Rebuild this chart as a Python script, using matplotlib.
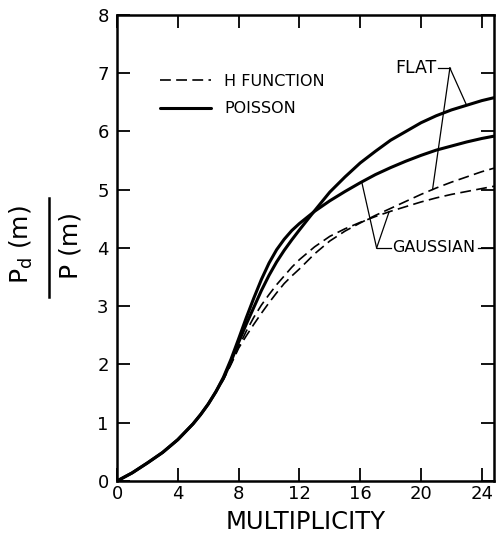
import numpy as np
import matplotlib
matplotlib.use("Agg")
import matplotlib.pyplot as plt
from matplotlib.lines import Line2D

plt.rcParams['font.family'] = ['DejaVu Sans']

# ---- data ----
m = [0, 1, 2, 3, 4, 5, 5.5, 6, 6.5, 7, 7.5, 8, 8.5, 9, 9.5, 10, 10.5, 11,
     11.5, 12, 13, 14, 15, 16, 17, 18, 19, 20, 21, 22, 23, 24, 24.8]
poisson_flat = [0, 0.14, 0.31, 0.49, 0.71, 0.98, 1.14, 1.32, 1.53, 1.76,
                2.05, 2.38, 2.69, 2.98, 3.27, 3.53, 3.76, 3.96, 4.14, 4.31,
                4.64, 4.96, 5.22, 5.46, 5.66, 5.85, 6.00, 6.15, 6.27, 6.37,
                6.45, 6.53, 6.58]
poisson_gauss = [0, 0.14, 0.31, 0.49, 0.71, 0.98, 1.14, 1.32, 1.53, 1.78,
                 2.09, 2.44, 2.80, 3.14, 3.46, 3.74, 3.97, 4.15, 4.30, 4.42,
                 4.63, 4.81, 4.97, 5.12, 5.26, 5.38, 5.49, 5.59, 5.68, 5.75,
                 5.82, 5.88, 5.92]
hfunc_flat = [0, 0.14, 0.31, 0.49, 0.71, 0.98, 1.14, 1.32, 1.53, 1.74,
              2.00, 2.28, 2.49, 2.69, 2.88, 3.06, 3.23, 3.39, 3.52, 3.64,
              3.90, 4.12, 4.29, 4.43, 4.56, 4.68, 4.80, 4.92, 5.03, 5.13,
              5.22, 5.31, 5.37]
hfunc_gauss = [0, 0.14, 0.31, 0.49, 0.71, 0.98, 1.14, 1.32, 1.53, 1.75,
               2.02, 2.30, 2.57, 2.81, 3.02, 3.20, 3.37, 3.52, 3.67, 3.80,
               4.02, 4.20, 4.33, 4.44, 4.54, 4.63, 4.71, 4.79, 4.86, 4.92,
               4.97, 5.02, 5.06]
xticks = [0, 4, 8, 12, 16, 20, 24]
yticks = [0, 1, 2, 3, 4, 5, 6, 7, 8]
legend_labels = ["H FUNCTION", "POISSON"]

fig = plt.figure(figsize=(4.96, 5.41), dpi=100)
ax = fig.add_axes([0.2359, 0.1109, 0.760, 0.8614])

solid_kw = dict(color='black', lw=2.2, solid_capstyle='round',
                solid_joinstyle='round')
dash_kw = dict(color='black', lw=1.2, dashes=(6.5, 3.2))

ax.plot(m, poisson_flat, **solid_kw)
ax.plot(m, poisson_gauss, **solid_kw)
ax.plot(m, hfunc_flat, **dash_kw)
ax.plot(m, hfunc_gauss, **dash_kw)

ax.set_xlim(0, 24.8)
ax.set_ylim(0, 8)
ax.set_xticks(xticks)
ax.set_yticks(yticks)
ax.tick_params(direction='in', length=9.5, width=1.3, top=True, right=True,
               labelsize=13, colors='black')
ax.tick_params(axis='x', pad=3)
ax.tick_params(axis='y', pad=6)
for s in ax.spines.values():
    s.set_linewidth(1.8)

ax.set_xlabel("MULTIPLICITY", fontsize=17.5, labelpad=5)

# legend
handles = [Line2D([], [], **dash_kw), Line2D([], [], **solid_kw)]
ax.legend(handles, legend_labels, loc='upper left',
          bbox_to_anchor=(0.115, 0.874), frameon=False, fontsize=11.5,
          handlelength=3.2, handletextpad=0.8, labelspacing=0.8,
          borderpad=0, borderaxespad=0)

# annotations
ann = dict(color='black', lw=0.9)
fx, fy = 21.9, 7.09
ax.text(21.05, fy, "FLAT", fontsize=12.5, ha='right', va='center')
ax.plot([21.1, fx], [fy, fy], **ann)
ax.plot([fx, 23.0], [fy, np.interp(23.0, m, poisson_flat)], **ann)
ax.plot([fx, 20.76], [fy, np.interp(20.76, m, hfunc_flat)], **ann)

gx, gy = 17.08, 4.0
ax.text(18.1, gy, "GAUSSIAN", fontsize=11.5, ha='left', va='center')
ax.plot([gx, 18.0], [gy, gy], **ann)
ax.plot([gx, 16.1], [gy, np.interp(16.1, m, poisson_gauss)], **ann)
ax.plot([gx, 17.9], [gy, np.interp(17.9, m, hfunc_gauss)], **ann)
ax.plot([23.75, 24.8], [gy, gy], **ann)

# y label as a stacked fraction
fig.text(0.044, 0.547, r"P$_{\rm d}$ (m)", rotation=90, fontsize=18,
         ha='center', va='center')
fig.text(0.143, 0.547, "P (m)", rotation=90, fontsize=18,
         ha='center', va='center')
fig.add_artist(Line2D([0.099, 0.099], [0.451, 0.634], color='black', lw=1.8,
                      transform=fig.transFigure))

fig.savefig("out.png", dpi=100)
